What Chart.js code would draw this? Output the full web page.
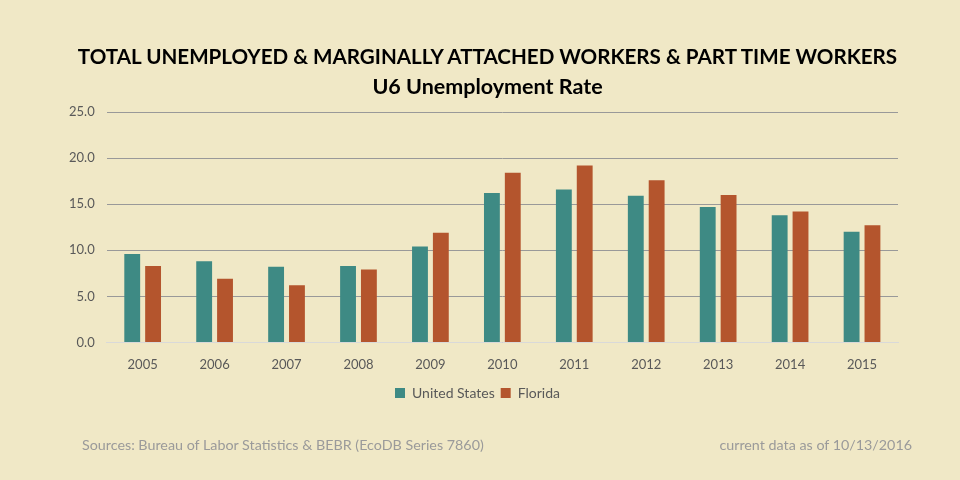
<!DOCTYPE html>
<html>
<head>
<meta charset="utf-8">
<script src="https://cdn.jsdelivr.net/npm/chart.js@4"></script>
<style>
  html, body { margin: 0; padding: 0; background: #f0e8c6; }
  #wrap { position: relative; width: 960px; height: 480px; font-family: Lato, sans-serif; }
  .head { position: absolute; left: 0; width: 975px; text-align: center; font-weight: bold; color: #000; line-height: 1; }
  .note { position: absolute; top: 436px; font-size: 14.3px; color: #9a9a9a; }
</style>
</head>
<body>
<div id="wrap">
  <canvas id="u6Chart"></canvas>
  <div class="head" style="top:46px; font-size:20.6px">TOTAL UNEMPLOYED &amp; MARGINALLY ATTACHED WORKERS &amp; PART TIME WORKERS</div>
  <div class="head" style="top:76px; font-size:21.5px">U6 Unemployment Rate</div>
  <div class="note" style="left:82px">Sources: Bureau of Labor Statistics &amp; BEBR (EcoDB Series 7860)</div>
  <div class="note" style="right:48px">current data as of 10/13/2016</div>
</div>
<script>
const years = ["2005", "2006", "2007", "2008", "2009", "2010", "2011", "2012", "2013", "2014", "2015"];
const unitedStates = [9.6, 8.8, 8.2, 8.3, 10.4, 16.2, 16.6, 15.9, 14.7, 13.8, 12.0];
const florida = [8.3, 6.9, 6.2, 7.9, 11.9, 18.4, 19.2, 17.6, 16.0, 14.2, 12.7];

const font = "Lato, 'Open Sans', sans-serif";

new Chart(document.getElementById("u6Chart"), {
  type: "bar",
  data: {
    labels: years,
    datasets: [
      { label: "United States", data: unitedStates, backgroundColor: "#3e8a84" },
      { label: "Florida", data: florida, backgroundColor: "#b4552d" },
    ],
  },
  options: {
    responsive: true,
    maintainAspectRatio: false,
    animation: false,
    layout: { padding: { left: 57, right: 62, top: 112, bottom: 70 } },
    datasets: { bar: { categoryPercentage: 0.58, barPercentage: 0.76 } },
    plugins: {
      legend: {
        position: "bottom",
        labels: { boxWidth: 10, boxHeight: 10, padding: 6, color: "#595959", font: { family: font, size: 14 } },
      },
      tooltip: { enabled: false },
    },
    scales: {
      x: {
        grid: { display: false },
        border: { color: "#d9d9d9", width: 1 },
        ticks: { color: "#595959", font: { family: font, size: 13 }, padding: 7 },
      },
      y: {
        min: 0,
        max: 25,
        ticks: {
          stepSize: 5,
          color: "#595959",
          font: { family: font, size: 13 },
          padding: 12,
          callback: v => v.toFixed(1),
        },
        grid: { color: "#999999", drawTicks: false },
        border: { display: false },
      },
    },
  },
});
</script>
</body>
</html>
